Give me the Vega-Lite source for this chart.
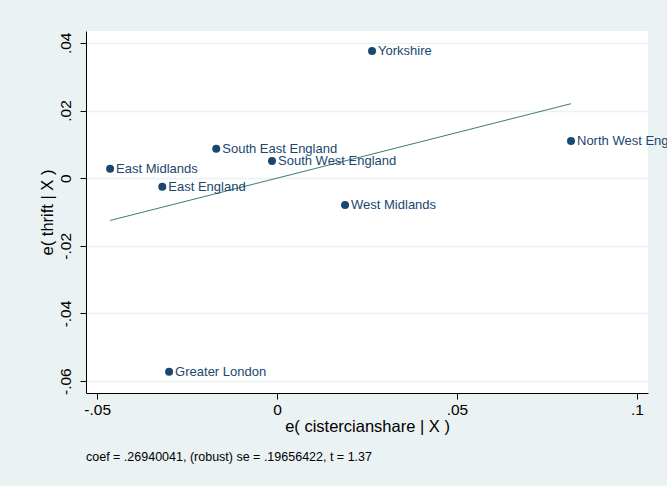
{
  "$schema": "https://vega.github.io/schema/vega-lite/v6.json",
  "width": 562,
  "height": 362,
  "autosize": {"type": "none"},
  "padding": {"left": 86, "top": 31, "right": 19, "bottom": 93},
  "background": "#EAF2F3",
  "config": {
    "font": "Liberation Sans",
    "view": {"fill": "white", "stroke": null},
    "axis": {"labelFont": "Liberation Sans", "titleFont": "Liberation Sans", "labelColor": "black", "titleColor": "black", "domainColor": "black", "tickColor": "black", "titleFontWeight": "normal"}
  },
  "title": {
    "text": "coef = .26940041, (robust) se = .19656422, t = 1.37",
    "orient": "bottom",
    "anchor": "start",
    "fontSize": 12.5,
    "fontWeight": "normal",
    "font": "Liberation Sans",
    "color": "black",
    "offset": 16,
    "dx": 47
  },
  "data": {
    "values": [
      {"region": "Yorkshire", "x": 0.0264, "y": 0.0376, "fit": 0.00711},
      {"region": "North West England", "x": 0.0817, "y": 0.0110, "fit": 0.02201},
      {"region": "South East England", "x": -0.0169, "y": 0.00866, "fit": -0.00455},
      {"region": "South West England", "x": -0.0014, "y": 0.0051, "fit": -0.00038},
      {"region": "East Midlands", "x": -0.0464, "y": 0.00275, "fit": -0.0125},
      {"region": "East England", "x": -0.0319, "y": -0.00257, "fit": -0.00859},
      {"region": "West Midlands", "x": 0.0189, "y": -0.0079, "fit": 0.00509},
      {"region": "Greater London", "x": -0.0300, "y": -0.0572, "fit": -0.00808}
    ]
  },
  "encoding": {
    "x": {
      "field": "x", "type": "quantitative",
      "scale": {"domain": [-0.0531, 0.1031], "nice": false, "zero": false},
      "axis": {
        "title": "e( cistercianshare | X )",
        "values": [-0.05, 0, 0.05, 0.1],
        "labelExpr": "replace(replace(format(datum.value, '.2~f'), '0.', '.'), '\u2212', '-')",
        "grid": false, "tickSize": 6, "labelFontSize": 15.5, "titleFontSize": 16.5,
        "labelPadding": 3, "titlePadding": 1, "labelFlush": false
      }
    }
  },
  "layer": [
    {
      "mark": {"type": "line", "color": "#3a7d70", "strokeWidth": 1},
      "encoding": {
        "y": {"field": "fit", "type": "quantitative"},
        "order": {"field": "x", "type": "quantitative"}
      }
    },
    {
      "mark": {"type": "point", "filled": true, "shape": "circle", "size": 64, "color": "#1a476f", "opacity": 1},
      "encoding": {
        "y": {
          "field": "y", "type": "quantitative",
          "scale": {"domain": [-0.0635, 0.0435], "nice": false, "zero": false},
          "axis": {
            "title": "e( thrift | X )",
            "values": [-0.06, -0.04, -0.02, 0, 0.02, 0.04],
            "labelExpr": "replace(replace(format(datum.value, '.2~f'), '0.', '.'), '\u2212', '-')",
            "grid": true, "gridColor": "#EAF2F3", "gridWidth": 1.5,
            "tickSize": 6, "labelFontSize": 15.5, "titleFontSize": 16.5,
            "labelAngle": -90, "labelAlign": "center", "labelBaseline": "bottom",
            "labelPadding": 7, "titlePadding": 3, "labelFlush": false
          }
        }
      }
    },
    {
      "mark": {"type": "text", "align": "left", "baseline": "middle", "dx": 6, "fontSize": 13, "color": "#1a476f", "clip": false, "font": "Liberation Sans"},
      "encoding": {
        "y": {"field": "y", "type": "quantitative"},
        "text": {"field": "region"}
      }
    }
  ]
}
